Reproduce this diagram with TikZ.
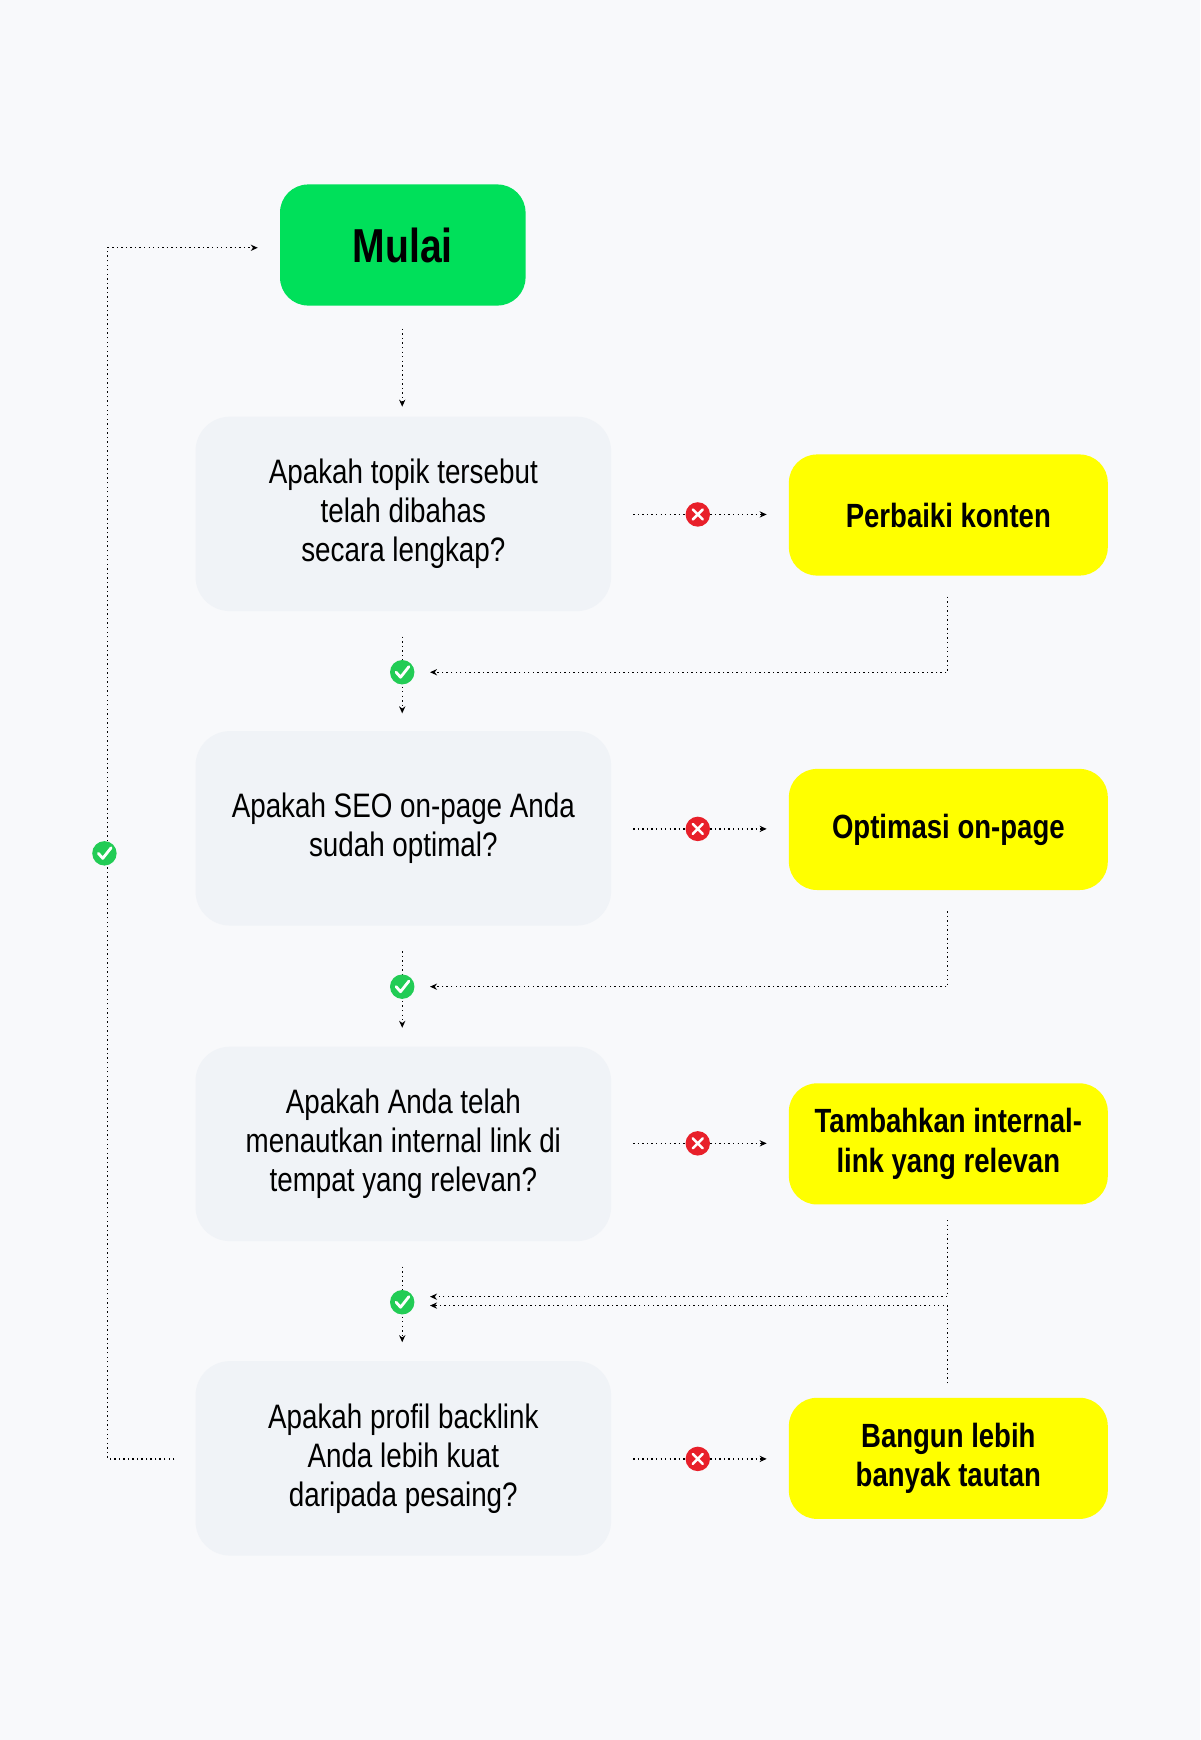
\documentclass[tikz,border=0pt]{standalone}
\usepackage{fontspec}
\setmainfont{Liberation Sans}[FakeStretch=0.82]
\usetikzlibrary{arrows.meta,calc}
\definecolor{bg}{HTML}{F8F9FB}
\definecolor{qbox}{HTML}{F0F3F7}
\definecolor{startg}{HTML}{00E05A}
\definecolor{yel}{HTML}{FFFF00}
\definecolor{redc}{HTML}{E8202A}
\definecolor{grnc}{HTML}{22CC55}
\tikzset{
  qnode/.style={rectangle,rounded corners=22pt,fill=qbox,minimum width=374*0.025cm,minimum height=175*0.025cm,align=center,font=\fontsize{21.7}{25}\selectfont},
  ynode/.style={rectangle,rounded corners=18pt,fill=yel,minimum width=287*0.025cm,minimum height=109*0.025cm,align=center,font=\bfseries\fontsize{21.5}{25}\selectfont},
  conn/.style={draw=black,dotted,line width=0.9pt,-{Stealth[length=4.5pt,width=4pt]}},
}
\newcommand{\nomark}[1]{\fill[redc] (#1) circle (11*0.025cm);
  \draw[white,line width=1.6pt,line cap=round] ($(#1)+(-4.5,-4.5)$) -- ($(#1)+(4.5,4.5)$) ($(#1)+(-4.5,4.5)$) -- ($(#1)+(4.5,-4.5)$);}
\newcommand{\okmark}[1]{\fill[grnc] (#1) circle (11*0.025cm);
  \draw[white,line width=1.8pt,line cap=round,line join=round] ($(#1)+(-5.5,0)$) -- ($(#1)+(-1.5,4.5)$) -- ($(#1)+(6,-5)$);}
\begin{document}
\begin{tikzpicture}[x=0.025cm,y=-0.025cm]
\fill[bg] (0,0) rectangle (1080,1566);
\useasboundingbox (0,0) rectangle (1080,1566);
\node[rectangle,rounded corners=18pt,fill=startg,minimum width=221*0.025cm,minimum height=109*0.025cm,font=\bfseries\fontsize{30.5}{32}\selectfont] (start) at (362.5,220.5) {Mulai};
\node[qnode] (q1) at (363,462.5) {Apakah topik tersebut\\telah dibahas\\secara lengkap?};
\node[qnode] (q2) at (363,745.5) {Apakah SEO on-page Anda\\sudah optimal?};
\node[qnode] (q3) at (363,1029.5) {Apakah Anda telah\\menautkan internal link di\\tempat yang relevan?};
\node[qnode] (q4) at (363,1312.5) {Apakah profil backlink\\Anda lebih kuat\\daripada pesaing?};
\node[ynode] (y1) at (853.5,463.5) {Perbaiki konten};
\node[ynode] (y2) at (853.5,746.5) {Optimasi on-page};
\node[ynode] (y3) at (853.5,1029.5) {Tambahkan internal-\\link yang relevan};
\node[ynode] (y4) at (853.5,1312.5) {Bangun lebih\\banyak tautan};
\coordinate (s1) at (362,296); \coordinate (s2) at (362,366);
\draw[conn] (s1) -- (s2);
\foreach \y/\i in {463/1,746/2,1029/3,1313/4}{
  \coordinate (a\i) at (570,\y); \coordinate (b\i) at (690,\y); \coordinate (m\i) at (628,\y);
  \draw[conn] (a\i) -- (b\i);
  \nomark{m\i}
}
\foreach \ya/\yb/\i in {537/605/1,820/888/2,1098/1167/3}{
  \coordinate (t\i) at (853,\ya); \coordinate (c\i) at (853,\yb); \coordinate (e\i) at (387,\yb);
  \draw[conn] (t\i) -- (c\i) -- (e\i);
}
\coordinate (t4) at (853,1245); \coordinate (c4) at (853,1175); \coordinate (e4) at (387,1175);
\draw[conn] (t4) -- (c4) -- (e4);
\foreach \ya/\yc/\yb/\i in {573/605/642/1,856/888/925/2,1140/1172/1208/3}{
  \coordinate (u\i) at (362,\ya); \coordinate (k\i) at (362,\yc); \coordinate (d\i) at (362,\yb);
  \draw[conn] (u\i) -- (d\i);
  \okmark{k\i}
}
\coordinate (l1) at (157,1313); \coordinate (l2) at (97,1313); \coordinate (l3) at (97,223); \coordinate (l4) at (232,223);
\coordinate (lk) at (94,768);
\draw[conn] (l1) -- (l2) -- (l3) -- (l4);
\okmark{lk}
\end{tikzpicture}
\end{document}
